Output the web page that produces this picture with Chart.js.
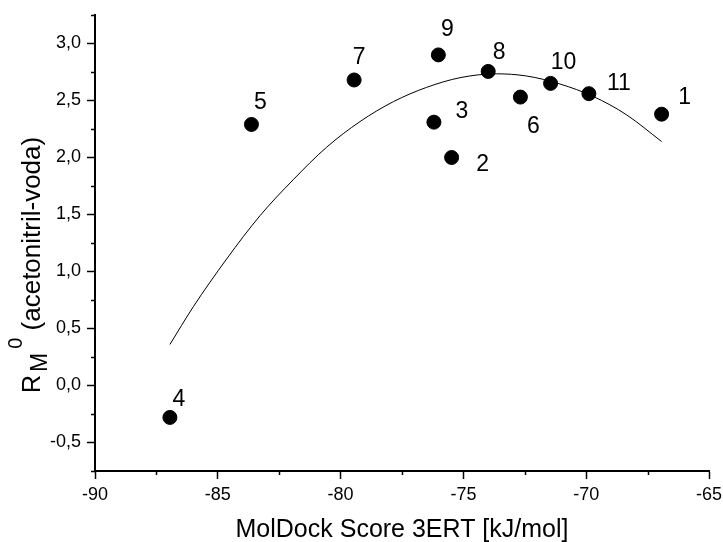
<!DOCTYPE html>
<html>
<head>
<meta charset="utf-8">
<script src="https://cdn.jsdelivr.net/npm/chart.js@4.4.0/dist/chart.umd.min.js"></script>
<style>
  html, body { margin: 0; padding: 0; background: #fff; }
  #wrap { width: 723px; height: 542px; }
</style>
</head>
<body>
<div id="wrap"><canvas id="chart"></canvas></div>
<script>
// compounds 1..11
const compounds = ['1', '2', '3', '4', '5', '6', '7', '8', '9', '10', '11'];
const dockScore = [-66.93, -75.48, -76.20, -86.95, -83.63, -72.68, -79.45, -73.99, -76.02, -71.45, -69.89];
const rm0 = [2.38, 2.00, 2.31, -0.28, 2.29, 2.53, 2.68, 2.755, 2.90, 2.65, 2.56];

// fitted curve
const fitScore = [-86.95, -86.0, -84.64, -83.28, -81.93, -80.57, -79.21, -77.85, -76.5, -75.14, -73.65, -72.43, -71.07, -69.71, -68.36, -66.93];
const fitRm0 = [0.36, 0.69, 1.11, 1.49, 1.805, 2.09, 2.315, 2.49, 2.615, 2.70, 2.734, 2.715, 2.645, 2.535, 2.375, 2.14];

const xTicks = [-90, -85, -80, -75, -70, -65];
const xMinor = [-87.5, -82.5, -77.5, -72.5, -67.5];
const yTicks = [-0.5, 0, 0.5, 1.0, 1.5, 2.0, 2.5, 3.0];
const yMinor = [-0.75, -0.25, 0.25, 0.75, 1.25, 1.75, 2.25, 2.75, 3.25];

const FONT = "'Liberation Sans', Arial, sans-serif";
Chart.defaults.font.family = FONT;
Chart.defaults.color = '#000';

// label placement next to each point (dx, dy in px)
const labelOffsets = [[23, -18], [31, 5], [28, -12], [9, -19], [9, -23], [13, 28], [5, -24], [11, -20], [9, -27], [13, -22], [30, -12]];

const extras = {
    id: 'extras',
    afterDatasetsDraw(chart) {
        const ctx = chart.ctx;
        const xs = chart.scales.x, ys = chart.scales.y;
        const area = chart.chartArea;
        ctx.save();
        // minor ticks
        ctx.strokeStyle = '#000';
        ctx.lineWidth = 1.5;
        ctx.beginPath();
        xMinor.forEach(v => {
            const px = Math.round(xs.getPixelForValue(v)) + 0.5;
            ctx.moveTo(px, area.bottom);
            ctx.lineTo(px, area.bottom + 4);
        });
        yMinor.forEach(v => {
            const py = Math.round(ys.getPixelForValue(v)) + 0.5;
            ctx.moveTo(area.left - 4, py);
            ctx.lineTo(area.left, py);
        });
        ctx.stroke();

        // point labels
        const meta = chart.getDatasetMeta(1);
        ctx.fillStyle = '#000';
        ctx.font = '23px ' + FONT;
        ctx.textAlign = 'center';
        ctx.textBaseline = 'alphabetic';
        meta.data.forEach((pt, i) => {
            const o = labelOffsets[i];
            ctx.fillText(compounds[i], pt.x + o[0], pt.y + o[1] + 8);
        });

        // x title
        ctx.font = '25px ' + FONT;
        ctx.fillText('MolDock Score 3ERT [kJ/mol]', (area.left + area.right) / 2, 537);

        // y title with sub/superscript
        ctx.translate(40, 393);
        ctx.rotate(-Math.PI / 2);
        ctx.textAlign = 'left';
        let x = 0;
        ctx.font = '25px ' + FONT;
        ctx.fillText('R', x, 0);
        x += ctx.measureText('R').width + 3;
        ctx.font = '23px ' + FONT;
        ctx.fillText('M', x, 7);
        x += ctx.measureText('M').width + 4;
        ctx.font = '20px ' + FONT;
        ctx.fillText('0', x, -18);
        x += ctx.measureText('0').width;
        ctx.font = '26px ' + FONT;
        ctx.fillText(' (acetonitril-voda)', x, 0);
        ctx.restore();
    }
};

new Chart(document.getElementById('chart'), {
    type: 'scatter',
    data: {
        datasets: [{
            type: 'line',
            data: fitScore.map((v, i) => ({x: v, y: fitRm0[i]})),
            borderColor: '#000',
            borderWidth: 1,
            pointRadius: 0,
            cubicInterpolationMode: 'monotone',
            fill: false,
            order: 2
        }, {
            data: dockScore.map((v, i) => ({x: v, y: rm0[i]})),
            backgroundColor: '#000',
            borderColor: '#000',
            pointRadius: 7,
            order: 1
        }]
    },
    options: {
        responsive: true,
        maintainAspectRatio: false,
        animation: false,
        layout: { padding: { top: 15, right: 14, left: 0, bottom: 0 } },
        plugins: {
            legend: { display: false },
            tooltip: { enabled: false }
        },
        scales: {
            x: {
                type: 'linear',
                min: -90,
                max: -65,
                afterBuildTicks: s => { s.ticks = xTicks.map(v => ({value: v})); },
                afterFit: s => { s.height = 71; s.paddingLeft = 0; s.paddingRight = 0; },
                ticks: {
                    font: { size: 18 },
                    color: '#000',
                    padding: 5,
                    maxRotation: 0,
                    autoSkip: false,
                    callback: v => String(v)
                },
                grid: { drawOnChartArea: false, tickLength: 8, tickWidth: 1.5, tickColor: '#000' },
                border: { color: '#000', width: 2 }
            },
            y: {
                type: 'linear',
                min: -0.75,
                max: 3.25,
                afterBuildTicks: s => { s.ticks = yTicks.map(v => ({value: v})); },
                afterFit: s => { s.width = 95; s.paddingTop = 0; s.paddingBottom = 0; },
                ticks: {
                    font: { size: 18 },
                    color: '#000',
                    padding: 6,
                    autoSkip: false,
                    callback: v => v.toFixed(1).replace('.', ',')
                },
                grid: { drawOnChartArea: false, tickLength: 8, tickWidth: 1.5, tickColor: '#000' },
                border: { color: '#000', width: 2 }
            }
        }
    },
    plugins: [extras]
});
</script>
</body>
</html>
